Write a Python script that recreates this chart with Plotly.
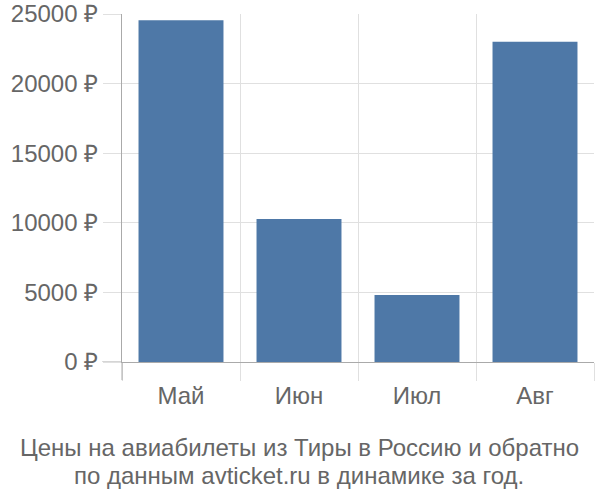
import plotly.graph_objects as go

# данные
months = ["Май", "Июн", "Июл", "Авг"]
prices = [24550, 10270, 4810, 23000]
y_ticks = [0, 5000, 10000, 15000, 20000, 25000]
y_tick_labels = [f"{v} ₽" for v in y_ticks]

title_lines = [
    "Цены на авиабилеты из Тиры в Россию и обратно",
    "по данным avticket.ru в динамике за год.",
]

font_family = "Liberation Sans, Arial, sans-serif"
text_color = "#666666"
grid_color = "#e0e0e0"
axis_color = "#aaaaaa"

fig = go.Figure(
    go.Bar(
        x=months,
        y=prices,
        marker_color="#4e78a7",
        marker_line_width=0,
        width=0.72,
    )
)

fig.update_xaxes(
    type="category",
    tickson="boundaries",
    ticks="outside",
    ticklen=18,
    tickcolor=grid_color,
    showgrid=True,
    gridcolor=grid_color,
    gridwidth=1,
    showline=True,
    linecolor=axis_color,
    ticklabelstandoff=12,
    tickfont=dict(family=font_family, size=24, color=text_color),
    range=[-0.5, 3.5],
)

fig.update_yaxes(
    range=[0, 25000],
    tickvals=y_ticks,
    ticktext=y_tick_labels,
    ticks="outside",
    ticklen=18,
    tickcolor=grid_color,
    showgrid=True,
    gridcolor=grid_color,
    gridwidth=1,
    zeroline=False,
    showline=True,
    linecolor=axis_color,
    tickfont=dict(family=font_family, size=24, color=text_color),
    ticklabeloverflow="allow",
    automargin=False,
)

# нулевая линия чуть темнее и заходит под подписи
fig.add_shape(
    type="line",
    xref="x domain",
    yref="y",
    x0=-0.042,
    x1=0,
    y0=0,
    y1=0,
    line=dict(color=axis_color, width=1),
)
# продолжение оси y вниз
fig.add_shape(
    type="line",
    xref="x domain",
    yref="y domain",
    x0=0,
    x1=0,
    y0=-0.052,
    y1=0,
    line=dict(color=axis_color, width=1),
)

# подпись снизу, по строкам
for line, ypos in zip(title_lines, [-0.247, -0.325]):
    fig.add_annotation(
        text=line,
        xref="paper",
        yref="paper",
        x=0.375,
        y=ypos,
        xanchor="center",
        yanchor="middle",
        showarrow=False,
        font=dict(family=font_family, size=24, color=text_color),
    )

fig.update_layout(
    width=600,
    height=500,
    margin=dict(l=122, r=6, t=14, b=138, autoexpand=False),
    paper_bgcolor="white",
    plot_bgcolor="white",
    showlegend=False,
)

# убираем отступ body, чтобы график встал в окно 600x500
fig.write_html(
    "out.html",
    config={"displayModeBar": False},
    post_script="document.body.style.margin = '0';",
)
